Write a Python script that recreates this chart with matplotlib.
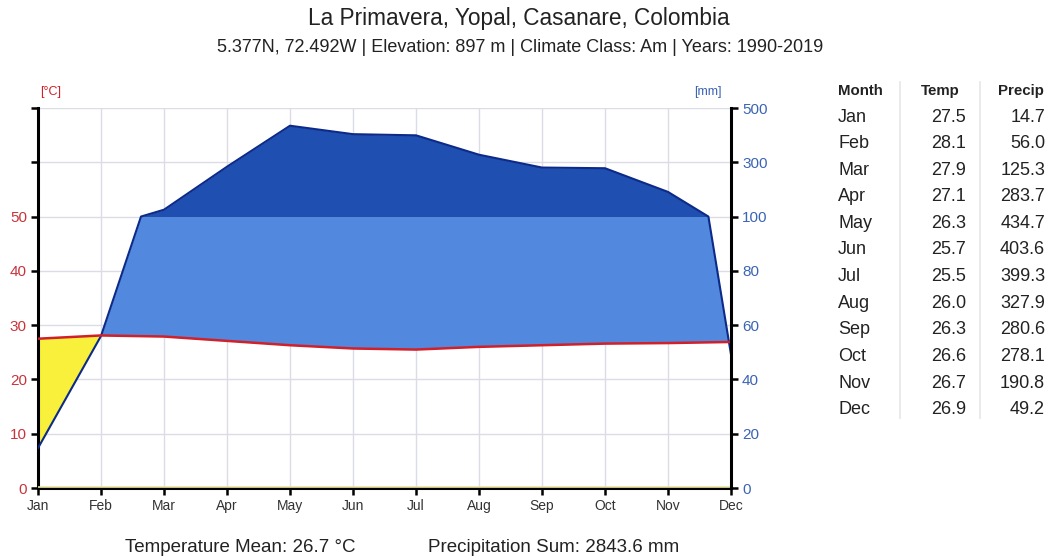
import numpy as np
import matplotlib
matplotlib.use("Agg")
import matplotlib.pyplot as plt

plt.rcParams['font.family'] = ['Liberation Sans', 'DejaVu Sans']

months = ["Jan", "Feb", "Mar", "Apr", "May", "Jun", "Jul", "Aug", "Sep", "Oct", "Nov", "Dec"]
temp = [27.5, 28.1, 27.9, 27.1, 26.3, 25.7, 25.5, 26.0, 26.3, 26.6, 26.7, 26.9]
precip = [14.7, 56.0, 125.3, 283.7, 434.7, 403.6, 399.3, 327.9, 280.6, 278.1, 190.8, 49.2]
left_ticks = [0, 10, 20, 30, 40, 50]
right_tick_labels = ["0", "20", "40", "60", "80", "100", "300", "500"]

title = "La Primavera, Yopal, Casanare, Colombia"
subtitle = "5.377N, 72.492W | Elevation: 897 m | Climate Class: Am | Years: 1990-2019"
footer_t = "Temperature Mean: 26.7 °C"
footer_p = "Precipitation Sum: 2843.6 mm"

RED = "#d0202a"
TICK_RED = "#c8343c"
BLUE_TXT = "#3a64b4"
NAVY = "#0c2a88"
DARK = "#1f4fb0"
LIGHT = "#5288de"
YELLOW = "#f8f03a"
GRID = "#dcdce6"
TXT = "#222222"

W, H = 1049, 560
fig = plt.figure(figsize=(W / 100, H / 100), dpi=100)
ax = fig.add_axes([38 / W, 1 - 488 / H, (731 - 38) / W, (488 - 108) / H])

idx = np.arange(len(months))
# precipitation polyline in mm with breakpoints at 100 mm
xs, ps = [], []
for i in range(len(precip)):
    xs.append(float(i)); ps.append(precip[i])
    if i < len(precip) - 1 and (precip[i] - 100) * (precip[i + 1] - 100) < 0:
        f = (100 - precip[i]) / (precip[i + 1] - precip[i])
        xs.append(i + f); ps.append(100.0)
xs = np.array(xs); ps = np.array(ps)
Ps = np.where(ps <= 100, ps / 2, 50 + (ps - 100) / 20)
T = np.interp(xs, idx, temp)

ax.fill_between(xs, Ps, T, where=T >= Ps, interpolate=True, color=YELLOW, lw=0, zorder=2)
ax.fill_between(xs, T, np.minimum(Ps, 50), where=Ps >= T, interpolate=True, color=LIGHT, lw=0, zorder=2)
ax.fill_between(xs, 50, Ps, where=Ps >= 50, interpolate=True, color=DARK, lw=0, zorder=2)
ax.plot(xs, Ps, color=NAVY, lw=1.5, zorder=4)
ax.plot(idx, temp, color=RED, lw=1.8, zorder=5)
ax.axhline(0.2, color="#ece6a0", lw=1.2, zorder=3)

ax.set_xlim(0, 11)
ax.set_ylim(0, 70)
ax.set_xticks(idx)
ax.set_xticklabels(months, fontsize=10, color="#333333")
ax.set_yticks(list(range(0, 80, 10)))
ax.set_yticklabels([str(v) if v in left_ticks else "" for v in range(0, 80, 10)],
                   fontsize=11, color=TICK_RED)
ax.grid(True, color=GRID, lw=1)
ax.set_axisbelow(True)
ax.tick_params(axis='both', length=5, width=1.8, color="black", pad=3)
for s in ["top", "right"]:
    ax.spines[s].set_visible(False)
for s in ["left", "bottom"]:
    ax.spines[s].set_linewidth(2.2)
    ax.spines[s].set_color("black")

ax2 = ax.twinx()
ax2.set_ylim(0, 70)
ax2.set_yticks(list(range(0, 80, 10)))
ax2.set_yticklabels(right_tick_labels, fontsize=11, color=BLUE_TXT)
ax2.tick_params(axis='y', length=5, width=1.8, color="black", pad=3)
for s in ["top", "left", "bottom"]:
    ax2.spines[s].set_visible(False)
ax2.spines["right"].set_linewidth(2.2)
ax2.spines["right"].set_color("black")

fig.text(40 / W, 1 - 92 / H, "[°C]", color=RED, fontsize=9, va="center", ha="left")
fig.text(722 / W, 1 - 92 / H, "[mm]", color=BLUE_TXT, fontsize=9, va="center", ha="right")

fig.text(519 / W, 1 - 18 / H, title, fontsize=16.3, ha="center", va="center", color=TXT)
fig.text(520 / W, 1 - 48 / H, subtitle, fontsize=13, ha="center", va="center", color=TXT)

fig.text(125 / W, 1 - 548 / H, footer_t, fontsize=13.5, ha="left", va="center", color=TXT)
fig.text(428 / W, 1 - 548 / H, footer_p, fontsize=13.5, ha="left", va="center", color=TXT)

# table
hy = 91
fig.text(838 / W, 1 - hy / H, "Month", fontsize=10.8, fontweight="bold", ha="left", va="center", color=TXT)
fig.text(960 / W, 1 - hy / H, "Temp", fontsize=10.8, fontweight="bold", ha="right", va="center", color=TXT)
fig.text(1044 / W, 1 - hy / H, "Precip", fontsize=10.8, fontweight="bold", ha="right", va="center", color=TXT)
for i, m in enumerate(months):
    y = 117 + i * 26.6
    fig.text(838 / W, 1 - y / H, m, fontsize=13, ha="left", va="center", color=TXT)
    fig.text(966 / W, 1 - y / H, f"{temp[i]:.1f}", fontsize=13, ha="right", va="center", color=TXT)
    fig.text(1045 / W, 1 - y / H, f"{precip[i]:.1f}", fontsize=13, ha="right", va="center", color=TXT)
for xl in [900, 980]:
    fig.add_artist(plt.Line2D([xl / W, xl / W], [1 - 82 / H, 1 - 418 / H], color="#e6e6e6", lw=1.2))

fig.savefig("out.png", dpi=100)
